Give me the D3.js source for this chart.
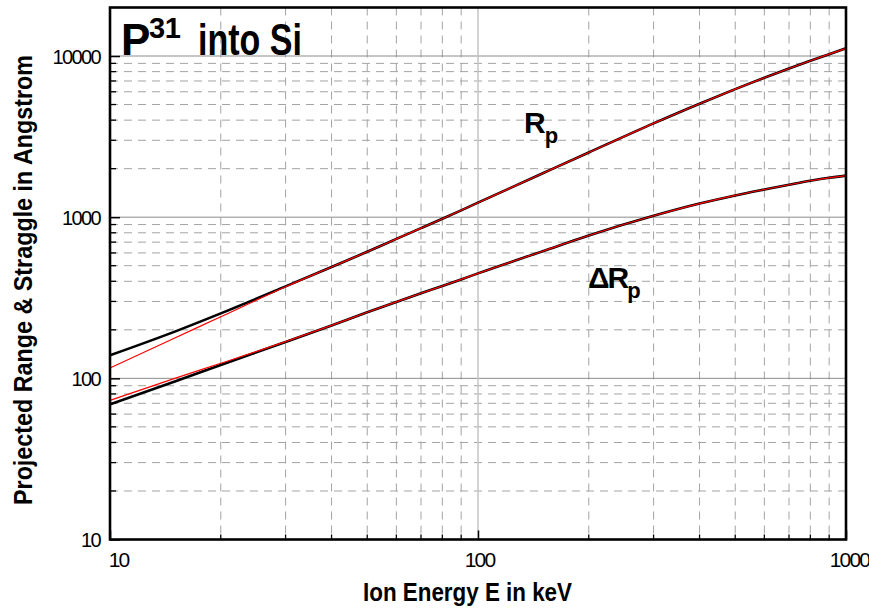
<!DOCTYPE html>
<html>
<head>
<meta charset="utf-8">
<script src="https://cdn.jsdelivr.net/npm/d3@7"></script>
<style>
  html, body { margin: 0; padding: 0; background: #fff; }
  svg { display: block; }
  text { font-family: "Liberation Sans", Arial, sans-serif; fill: #000; }
</style>
</head>
<body>
<div id="chart"></div>
<script>
// Ion energy in keV
const energy = [10, 15, 20, 30, 40, 50, 60, 70, 80, 90, 100, 150, 200, 300, 400, 500, 600, 700, 800, 900, 1000];
// Projected range Rp (Angstrom), tabulated values
const rpTable = [139, 195, 253, 372, 491, 610, 733, 855, 978, 1103, 1230, 1872, 2520, 3820, 5060, 6230, 7330, 8360, 9340, 10270, 11160];
// Projected range Rp, fitted curve
const rpFit = [116, 178, 241, 370, 491, 610, 733, 855, 978, 1103, 1230, 1872, 2520, 3820, 5060, 6230, 7330, 8360, 9340, 10270, 11160];
// Straggle dRp (Angstrom), tabulated values
const drpTable = [69, 95.5, 121, 168, 213, 257, 298, 337, 374, 411, 448, 615, 770, 1020, 1215, 1365, 1485, 1590, 1682, 1755, 1810];
// Straggle dRp, fitted curve
const drpFit = [73, 100, 124, 169, 213, 257, 298, 337, 374, 411, 448, 615, 770, 1020, 1215, 1365, 1485, 1590, 1682, 1755, 1810];

const xTickValues = [10, 100, 1000];
const yTickValues = [10, 100, 1000, 10000];
const xDomain = [10, 1000];
const yDomain = [10, 20000];

const W = 869, H = 613;
const plot = { left: 110, right: 846, top: 7.5, bottom: 539.5 };

const svg = d3.select("#chart").append("svg")
  .attr("width", W).attr("height", H);
svg.append("rect").attr("width", W).attr("height", H).attr("fill", "#fff");

const x = d3.scaleLog().domain(xDomain).range([plot.left, plot.right]);
const y = d3.scaleLog().domain(yDomain).range([plot.bottom, plot.top]);

// minor values: 2..9 times each decade
function minors(lo, hi) {
  const out = [];
  for (let d = lo; d < hi; d *= 10) {
    for (let k = 2; k <= 9; k++) {
      const v = d * k;
      if (v < hi) out.push(v);
    }
  }
  return out;
}
const xMinor = minors(10, 1000);
const yMinor = minors(10, 20000);

const grid = svg.append("g");
// dashed minor grid
grid.selectAll(".hminor").data(yMinor).join("line")
  .attr("x1", plot.left).attr("x2", plot.right)
  .attr("y1", d => y(d)).attr("y2", d => y(d))
  .attr("stroke", "#a3a3a3").attr("stroke-width", 1)
  .attr("stroke-dasharray", "8,6");
grid.selectAll(".vminor").data(xMinor).join("line")
  .attr("y1", plot.top).attr("y2", plot.bottom)
  .attr("x1", d => x(d)).attr("x2", d => x(d))
  .attr("stroke", "#a3a3a3").attr("stroke-width", 1)
  .attr("stroke-dasharray", "8,6");
// solid major grid
grid.selectAll(".hmajor").data([100, 1000, 10000]).join("line")
  .attr("x1", plot.left).attr("x2", plot.right)
  .attr("y1", d => y(d)).attr("y2", d => y(d))
  .attr("stroke", "#8c8c8c").attr("stroke-width", 1);
grid.selectAll(".vmajor").data([100]).join("line")
  .attr("y1", plot.top).attr("y2", plot.bottom)
  .attr("x1", d => x(d)).attr("x2", d => x(d))
  .attr("stroke", "#c4c4c4").attr("stroke-width", 1.5);

// curves
const lineOf = vals => d3.line()
  .x((d, i) => x(energy[i]))
  .y(d => y(d))
  .curve(d3.curveMonotoneX)(vals);

const curves = svg.append("g").attr("fill", "none");
[rpTable, drpTable].forEach(v => curves.append("path")
  .attr("d", lineOf(v)).attr("stroke", "#000").attr("stroke-width", 2.6));
[rpFit, drpFit].forEach(v => curves.append("path")
  .attr("d", lineOf(v)).attr("stroke", "#ff0000").attr("stroke-width", 1.2));

// axes with inward ticks
const yAxis = d3.axisLeft(y).tickValues(yTickValues).tickSize(-10).tickFormat(d3.format("d")).tickPadding(9);
const gy = svg.append("g").attr("transform", `translate(${plot.left},0)`).call(yAxis);
gy.select(".domain").remove();
gy.selectAll(".tick line").attr("stroke", "#000").attr("stroke-width", 1.5);
gy.selectAll(".tick text")
  .attr("font-family", "'Liberation Sans', Arial, sans-serif")
  .attr("font-size", 20).attr("letter-spacing", "-1.6px")
  .attr("x", -10).attr("dy", "0.36em");
gy.selectAll(".minor").data(yMinor).join("line")
  .attr("class", "minor")
  .attr("x1", 0).attr("x2", 6)
  .attr("y1", d => y(d)).attr("y2", d => y(d))
  .attr("stroke", "#000").attr("stroke-width", 1.3);

const xAxis = d3.axisBottom(x).tickValues(xTickValues).tickSize(-9).tickFormat(d3.format("d")).tickPadding(14);
const gx = svg.append("g").attr("transform", `translate(0,${plot.bottom})`).call(xAxis);
gx.select(".domain").remove();
gx.selectAll(".tick line").attr("stroke", "#000").attr("stroke-width", 1.5);
gx.selectAll(".tick text")
  .attr("font-family", "'Liberation Sans', Arial, sans-serif")
  .attr("font-size", 21).attr("letter-spacing", "-1.8px")
  .attr("y", 27).attr("dy", 0)
  .attr("dx", (d, i) => i === 0 ? 8 : (d === 1000 ? 3 : 1));
gx.selectAll(".minor").data(xMinor).join("line")
  .attr("class", "minor")
  .attr("y1", 0).attr("y2", -5)
  .attr("x1", d => x(d)).attr("x2", d => x(d))
  .attr("stroke", "#000").attr("stroke-width", 1.3);

// frame
svg.append("rect")
  .attr("x", plot.left).attr("y", plot.top)
  .attr("width", plot.right - plot.left).attr("height", plot.bottom - plot.top)
  .attr("fill", "none").attr("stroke", "#000").attr("stroke-width", 2.6);

// title
const title = svg.append("text").attr("font-weight", "bold").attr("font-size", 44)
  .attr("letter-spacing", "-2px");
title.append("tspan").attr("x", 121).attr("y", 55).text("P");
title.append("tspan").attr("x", 149).attr("y", 38).attr("font-size", 29).attr("letter-spacing", "-0.5px").text("31");
svg.append("text").attr("font-weight", "bold").attr("font-size", 44)
  .attr("x", 198).attr("y", 55)
  .attr("textLength", 104).attr("lengthAdjust", "spacingAndGlyphs")
  .text("into Si");

// curve labels
const rpLabel = svg.append("text").attr("font-weight", "bold").attr("font-size", 30)
  .attr("x", 524).attr("y", 133);
rpLabel.append("tspan").text("R");
rpLabel.append("tspan").attr("font-size", 22).attr("dy", 10).attr("dx", -1).text("p");

const drpLabel = svg.append("text").attr("font-weight", "bold").attr("font-size", 30)
  .attr("x", 588).attr("y", 288).attr("letter-spacing", "-2px");
drpLabel.append("tspan").text("\u0394R");
drpLabel.append("tspan").attr("font-size", 22).attr("dy", 10).attr("letter-spacing", "0").text("p");

// axis titles
svg.append("text").attr("font-weight", "bold").attr("font-size", 26)
  .attr("x", 363).attr("y", 601)
  .attr("textLength", 209).attr("lengthAdjust", "spacingAndGlyphs")
  .text("Ion Energy E in keV");

svg.append("text").attr("font-weight", "bold").attr("font-size", 26)
  .attr("transform", "translate(32,505) rotate(-90)")
  .attr("textLength", 450).attr("lengthAdjust", "spacingAndGlyphs")
  .text("Projected Range & Straggle in Angstrom");
</script>
</body>
</html>
